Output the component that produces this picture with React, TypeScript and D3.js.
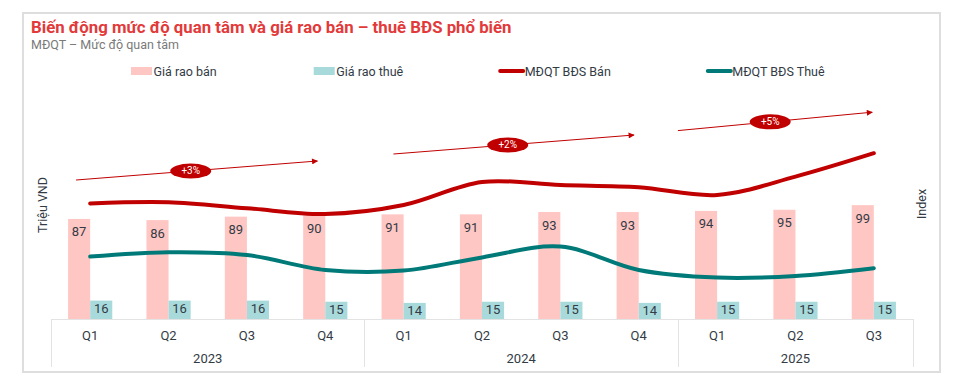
import React, { useEffect, useRef } from "react";
import * as d3 from "d3";

// categories
const quarters = ["Q1", "Q2", "Q3", "Q4", "Q1", "Q2", "Q3", "Q4", "Q1", "Q2", "Q3"];
const periodYear = ["2023", "2023", "2023", "2023", "2024", "2024", "2024", "2024", "2025", "2025", "2025"];
const years = ["2023", "2024", "2025"];

// bars (Triệu VND)
const salePrice = [87, 86, 89, 90, 91, 91, 93, 93, 94, 95, 99];
const rentPrice = [16, 16, 16, 15, 14, 15, 15, 14, 15, 15, 15];

// lines (Index)
const interestSale = [57.8, 58.4, 55.4, 52.5, 57.0, 68.5, 67.0, 65.9, 62.0, 71.2, 82.9];
const interestRent = [31.2, 33.4, 32.0, 24.5, 24.2, 30.8, 36.2, 24.5, 20.7, 21.5, 25.4];

const seriesNames = ["Giá rao bán", "Giá rao thuê", "MĐQT BĐS Bán", "MĐQT BĐS Thuê"];

// trend arrows: period position and index value at start and end
const trendLabels = ["+3%", "+2%", "+5%"];
const trendFromPos = [-0.18, 3.87, 7.5];
const trendToPos = [2.9, 6.94, 9.98];
const trendFromVal = [69.5, 82.5, 94.2];
const trendToVal = [79, 92, 103.4];

const title = "Biến động mức độ quan tâm và giá rao bán – thuê BĐS phổ biến";
const subtitle = "MĐQT – Mức độ quan tâm";

const W = 966;
const H = 391;
const FONT = "Roboto, 'Noto Sans', sans-serif";
const TEXT = "#333b45";
const PINK = "#ffc7c4";
const AQUA = "#a8dadc";
const RED = "#c00000";
const TEAL = "#007a78";

export default function App() {
  const ref = useRef<SVGSVGElement>(null);

  useEffect(() => {
    const svg = d3.select(ref.current);
    svg.selectAll("*").remove();
    svg.style("font-family", FONT);

    const left = 51, right = 913, base = 319;
    const ids = quarters.map((_, i) => String(i));

    const x = d3.scaleBand<string>().domain(ids).range([left, right]).paddingInner(0.436).paddingOuter(0.218);
    const xs = d3.scaleBand<string>().domain(["sale", "rent"]).range([0, x.bandwidth()]);
    const center = (i: number) => (x(String(i)) as number) + x.bandwidth() / 2;
    const xPos = d3.scaleLinear().domain([0, quarters.length - 1]).range([center(0), center(quarters.length - 1)]);
    const y = d3.scaleLinear().domain([0, 100]).range([base, base - 115]);
    const yIdx = d3.scaleLinear().domain([0, 100]).range([base, base - 200]);

    // card
    svg.append("rect").attr("x", 23).attr("y", 13).attr("width", 917).attr("height", 359)
      .attr("fill", "#fff").attr("stroke", "#dedede").attr("stroke-width", 2);

    svg.append("text").attr("x", 31).attr("y", 33).text(title)
      .attr("fill", "#e23a3a").attr("font-size", 16.8).attr("font-weight", 700);
    svg.append("text").attr("x", 31).attr("y", 49).text(subtitle)
      .attr("fill", "#7a7a7a").attr("font-size", 12.5);

    // legend
    const lg = svg.append("g");
    let lx = 131;
    seriesNames.forEach((name, i) => {
      const isLine = i >= 2;
      const sw = isLine ? 23 : 21;
      if (isLine) {
        lg.append("line").attr("x1", lx).attr("x2", lx + sw).attr("y1", 71).attr("y2", 71)
          .attr("stroke", i === 2 ? RED : TEAL).attr("stroke-width", 4).attr("stroke-linecap", "round");
      } else {
        lg.append("rect").attr("x", lx).attr("y", 67).attr("width", sw).attr("height", 8)
          .attr("fill", i === 0 ? PINK : AQUA);
      }
      const t = lg.append("text").attr("x", lx + sw + 1.5).attr("y", 75.5).text(name)
        .attr("fill", TEXT).attr("font-size", 12.5);
      const tw = (t.node() as SVGTextElement).getComputedTextLength();
      lx = lx + sw + 1.5 + tw + 97;
    });

    // axis titles
    svg.append("text").attr("transform", `translate(47,205) rotate(-90)`).attr("text-anchor", "middle")
      .text("Triệu VND").attr("fill", TEXT).attr("font-size", 12.5);
    svg.append("text").attr("transform", `translate(926,204) rotate(-90)`).attr("text-anchor", "middle")
      .text("Index").attr("fill", TEXT).attr("font-size", 12.5);

    // bars
    const g = svg.append("g");
    g.selectAll(".sale").data(salePrice).join("rect").attr("class", "sale")
      .attr("x", (_, i) => (x(String(i)) as number) + (xs("sale") as number))
      .attr("width", xs.bandwidth()).attr("y", (d) => y(d)).attr("height", (d) => base - y(d))
      .attr("fill", PINK);
    g.selectAll(".rent").data(rentPrice).join("rect").attr("class", "rent")
      .attr("x", (_, i) => (x(String(i)) as number) + (xs("rent") as number))
      .attr("width", xs.bandwidth()).attr("y", (d) => y(d)).attr("height", (d) => base - y(d))
      .attr("fill", AQUA);

    g.selectAll(".saleLbl").data(salePrice).join("text").attr("class", "saleLbl")
      .attr("x", (_, i) => (x(String(i)) as number) + (xs("sale") as number) + xs.bandwidth() / 2)
      .attr("y", (d) => y(d) + 17.5).attr("text-anchor", "middle").attr("font-size", 13)
      .attr("fill", TEXT).text((d) => d);
    g.selectAll(".rentLbl").data(rentPrice).join("text").attr("class", "rentLbl")
      .attr("x", (_, i) => (x(String(i)) as number) + (xs("rent") as number) + xs.bandwidth() / 2)
      .attr("y", (d) => y(d) + 12.5).attr("text-anchor", "middle").attr("font-size", 13)
      .attr("fill", TEXT).text((d) => d);

    // lines
    const line = d3.line<number>().x((_, i) => center(i)).y((d) => yIdx(d)).curve(d3.curveCatmullRom.alpha(0.5));
    g.append("path").attr("d", line(interestSale)).attr("fill", "none").attr("stroke", RED)
      .attr("stroke-width", 4).attr("stroke-linecap", "round");
    g.append("path").attr("d", line(interestRent)).attr("fill", "none").attr("stroke", TEAL)
      .attr("stroke-width", 4).attr("stroke-linecap", "round");

    // category axis (two-level)
    const ax = svg.append("g").attr("stroke", "#e3e3e3").attr("stroke-width", 1);
    ax.append("line").attr("x1", left).attr("x2", right).attr("y1", base + 0.5).attr("y2", base + 0.5);
    const groupEdges = [0, 4, 8, quarters.length];
    groupEdges.forEach((k) => {
      const ex = k < quarters.length ? (x(String(k)) as number) - x.step() * x.paddingOuter() : right;
      const px = Math.round(k === 0 ? left : ex) + 0.5;
      ax.append("line").attr("x1", px).attr("x2", px).attr("y1", base).attr("y2", 367);
    });
    svg.selectAll(".qlbl").data(quarters).join("text").attr("class", "qlbl")
      .attr("x", (_, i) => center(i)).attr("y", 339.5).attr("text-anchor", "middle")
      .attr("font-size", 13).attr("fill", TEXT).text((d) => d);
    svg.selectAll(".ylbl").data(years).join("text").attr("class", "ylbl")
      .attr("x", (yr) => {
        const idx = periodYear.map((p, i) => (p === yr ? i : -1)).filter((i) => i >= 0);
        return (center(idx[0]) + center(idx[idx.length - 1])) / 2;
      })
      .attr("y", 363).attr("text-anchor", "middle").attr("font-size", 13).attr("fill", TEXT).text((d) => d);

    // trend arrows
    svg.append("defs").append("marker").attr("id", "ah").attr("viewBox", "0 0 10 10").attr("refX", 9).attr("refY", 5)
      .attr("markerWidth", 8).attr("markerHeight", 6).attr("markerUnits", "userSpaceOnUse").attr("orient", "auto")
      .append("path").attr("d", "M0,0L10,5L0,10Z").attr("fill", RED);
    trendLabels.forEach((lab, i) => {
      const x1 = xPos(trendFromPos[i]), x2 = xPos(trendToPos[i]);
      const y1 = yIdx(trendFromVal[i]), y2 = yIdx(trendToVal[i]);
      svg.append("line").attr("x1", x1).attr("y1", y1).attr("x2", x2).attr("y2", y2)
        .attr("stroke", RED).attr("stroke-width", 1).attr("marker-end", "url(#ah)");
      const t = 0.475;
      const cx = x1 + (x2 - x1) * t, cy = y1 + (y2 - y1) * t;
      svg.append("ellipse").attr("cx", cx).attr("cy", cy).attr("rx", 20.5).attr("ry", 7.5).attr("fill", RED);
      svg.append("text").attr("x", cx).attr("y", cy + 3.5).attr("text-anchor", "middle")
        .attr("font-size", 10).attr("fill", "#fff").text(lab);
    });
  }, []);

  return (
    <svg ref={ref} width={W} height={H} style={{ position: "absolute", left: 0, top: 0, background: "#fff" }} />
  );
}
